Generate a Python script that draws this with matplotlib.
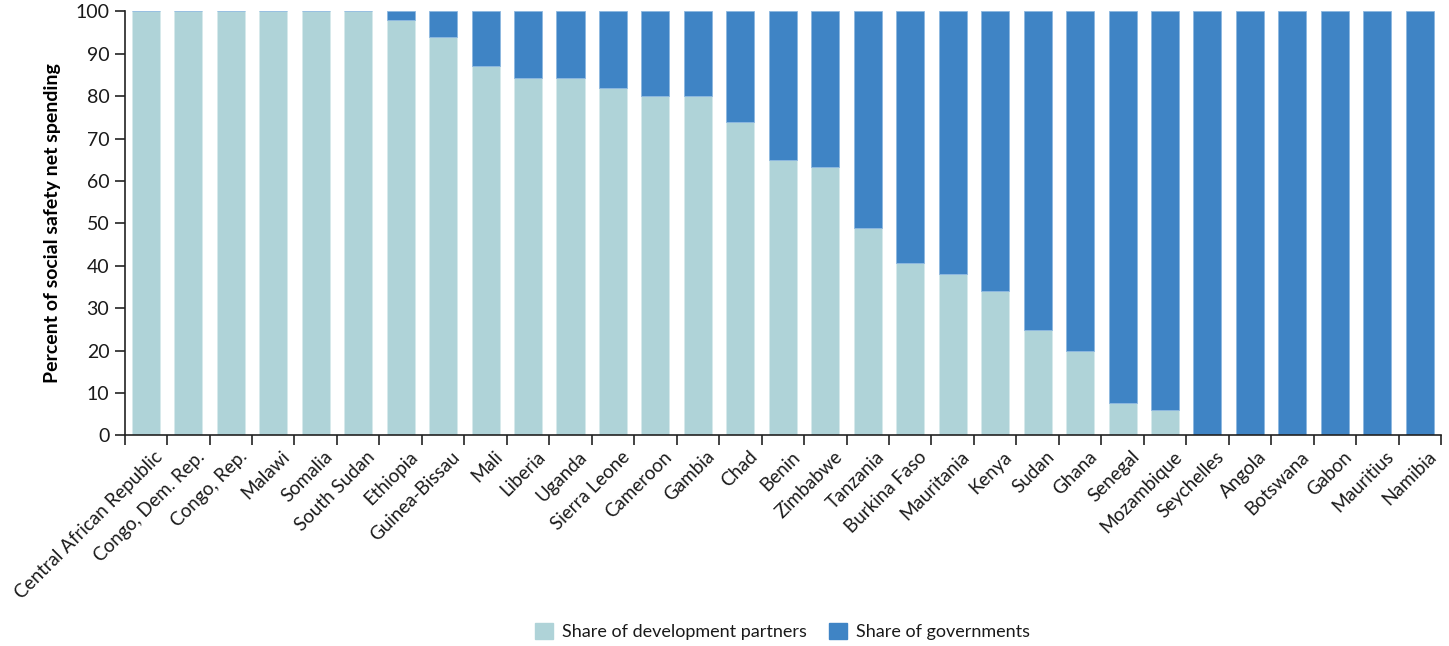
import matplotlib
matplotlib.use("Agg")
import matplotlib.pyplot as plt
import matplotlib.transforms as mtransforms
import numpy as np
from matplotlib.patches import Patch

countries = ["Central African Republic", "Congo, Dem. Rep.", "Congo, Rep.", "Malawi",
             "Somalia", "South Sudan", "Ethiopia", "Guinea-Bissau", "Mali", "Liberia",
             "Uganda", "Sierra Leone", "Cameroon", "Gambia", "Chad", "Benin", "Zimbabwe",
             "Tanzania", "Burkina Faso", "Mauritania", "Kenya", "Sudan", "Ghana", "Senegal",
             "Mozambique", "Seychelles", "Angola", "Botswana", "Gabon", "Mauritius", "Namibia"]
dev_partners = [100, 100, 100, 100, 100, 100, 98, 94, 87, 84.3, 84.3, 81.8, 80, 80, 73.9,
                64.9, 63.3, 49, 40.7, 38, 34, 24.8, 20, 7.6, 6, 0, 0, 0, 0, 0, 0]
governments = [100 - v for v in dev_partners]

light = "#afd3d8"
dark = "#3f84c5"
plt.rcParams["font.family"] = ["Lato", "DejaVu Sans"]
plt.rcParams["text.color"] = "#1a1a1a"

fig = plt.figure(figsize=(14.49, 6.46), dpi=100)
ax = fig.add_axes([0.086, 0.326, 0.9085, 0.6565])

x = np.arange(len(countries))
ax.bar(x, dev_partners, width=0.66, color=light, edgecolor="#d6eaec", linewidth=0.6)
ax.bar(x, governments, bottom=dev_partners, width=0.66, color=dark,
       edgecolor="#8db8e0", linewidth=0.6)

ax.set_xlim(-0.5, len(countries) - 0.5)
ax.set_ylim(0, 100)
ax.set_yticks(np.arange(0, 101, 10))
ax.tick_params(axis="y", labelsize=14, length=7, width=1.2, color="#222222",
               labelcolor="#1a1a1a", pad=4)

ax.set_xticks(np.arange(-0.5, len(countries), 1.0))
ax.set_xticklabels([])
ax.tick_params(axis="x", which="major", length=7, width=1.2, color="#222222")
ax.set_xticks(x, minor=True)
ax.set_xticklabels(countries, minor=True, rotation=45, ha="right",
                   rotation_mode="anchor", fontsize=13.5)
ax.tick_params(axis="x", which="minor", length=0, pad=9, labelcolor="#1a1a1a")
shift = mtransforms.ScaledTranslation(8 / 100, 0, fig.dpi_scale_trans)
for lbl in ax.get_xticklabels(minor=True):
    lbl.set_transform(lbl.get_transform() + shift)

for s in ["top", "right"]:
    ax.spines[s].set_visible(False)
for s in ["left", "bottom"]:
    ax.spines[s].set_linewidth(1.2)
    ax.spines[s].set_color("#222222")

ax.set_ylabel("Percent of social safety net spending", fontsize=14,
              fontweight="bold", labelpad=10)

handles = [Patch(color=light, label="Share of development partners"),
           Patch(color=dark, label="Share of governments")]
fig.legend(handles=handles, loc="center", bbox_to_anchor=(0.54, 0.022),
           ncol=2, frameon=False, fontsize=13, handlelength=1.0, handleheight=1.0,
           handletextpad=0.5, columnspacing=1.2)

fig.savefig("out.png", dpi=100)
